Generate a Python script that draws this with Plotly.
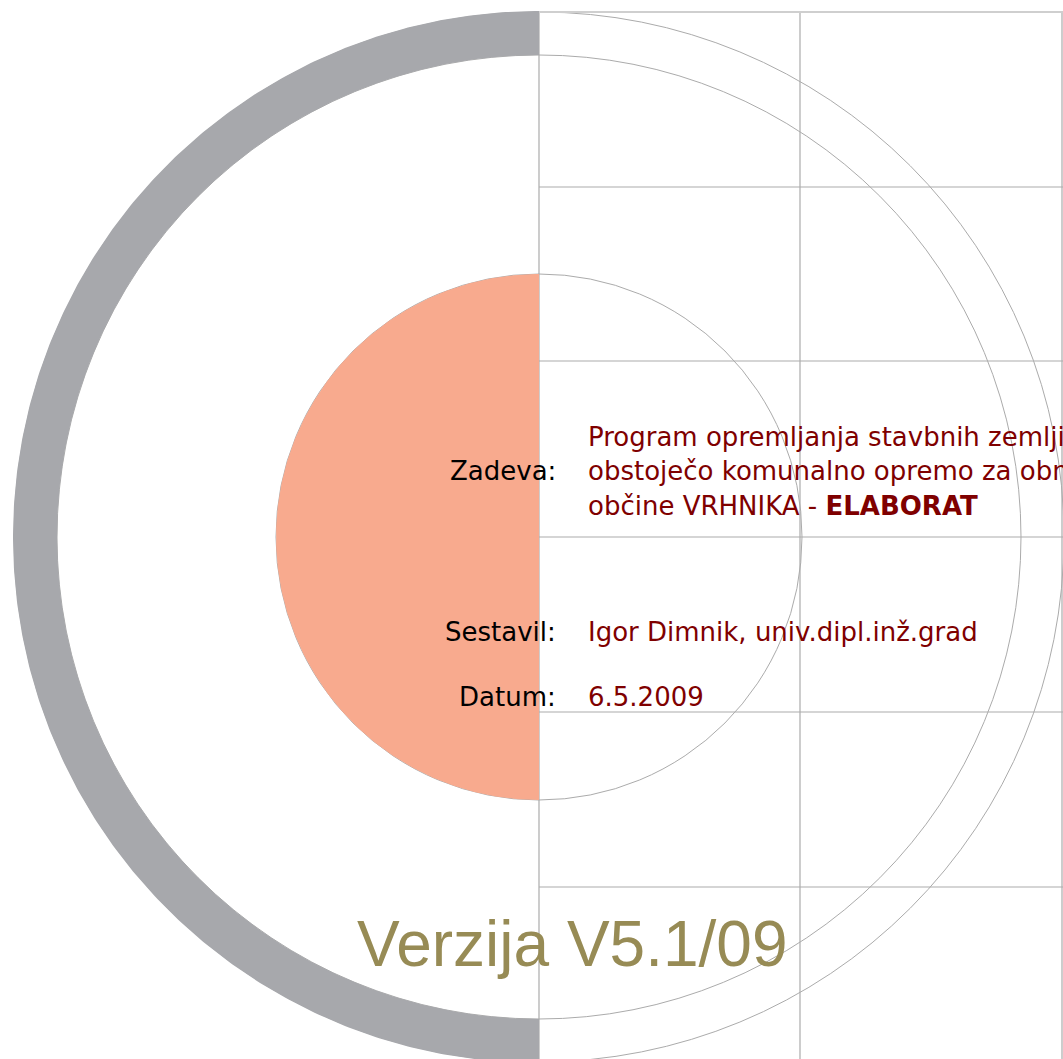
import numpy as np
import plotly.graph_objects as go

# ---- page geometry (pixel-like data units) ----
W, H = 1063, 1059
CENTER_X, CENTER_Y = 539, 537
RING_INNER, RING_OUTER = 482, 526      # grey half ring radii
DISC_RADIUS = 263                      # salmon half disc radius
GUIDE_RADII = [263, 482, 525]          # thin guide circles
GRID_X = [539, 800, 1062]
GRID_Y = [187, 361, 537, 712, 887]
TOP_Y = 12

# ---- texts ----
SUBJECT_LINES = [
    "Program opremljanja stavbnih zemljišč za",
    "obstoječo komunalno opremo za območje",
    "občine VRHNIKA - <b>ELABORAT</b>",
]
SUBJECT_Y = [437, 471, 506]
LABELS = ["Zadeva:", "Sestavil:", "Datum:"]
LABEL_Y = [471, 632, 697]
VALUES = ["Igor Dimnik, univ.dipl.inž.grad", "6.5.2009"]
VALUE_Y = [632, 697]
VERSION = "Verzija V5.1/09"
VERSION_X, VERSION_Y = 572, 944

RING_COLOR = "#A7A8AC"
DISC_COLOR = "#F8AA8E"
LINE_COLOR = "#ABABAB"
TEXT_RED = "#7F0000"
VERSION_COLOR = "#978B55"

fig = go.Figure()

# grey half ring (left side)
t = np.linspace(np.pi / 2, 3 * np.pi / 2, 400)
rx = np.concatenate([CENTER_X + RING_OUTER * np.cos(t), CENTER_X + RING_INNER * np.cos(t[::-1])])
ry = np.concatenate([CENTER_Y + RING_OUTER * np.sin(t), CENTER_Y + RING_INNER * np.sin(t[::-1])])
fig.add_trace(go.Scatter(x=rx, y=ry, mode="lines", fill="toself", fillcolor=RING_COLOR,
                         line=dict(width=0, color=RING_COLOR), hoverinfo="skip", showlegend=False))

# salmon half disc
dx = np.concatenate([CENTER_X + DISC_RADIUS * np.cos(t), [CENTER_X]])
dy = np.concatenate([CENTER_Y + DISC_RADIUS * np.sin(t), [CENTER_Y - DISC_RADIUS]])
fig.add_trace(go.Scatter(x=dx, y=dy, mode="lines", fill="toself", fillcolor=DISC_COLOR,
                         line=dict(width=0, color=DISC_COLOR), hoverinfo="skip", showlegend=False))

shapes = []
for r in GUIDE_RADII:
    shapes.append(dict(type="circle", xref="x", yref="y", layer="below",
                       x0=CENTER_X - r, x1=CENTER_X + r, y0=CENTER_Y - r, y1=CENTER_Y + r,
                       line=dict(color=LINE_COLOR, width=1)))
for gx in GRID_X:
    shapes.append(dict(type="line", xref="x", yref="y", layer="below",
                       x0=gx, x1=gx, y0=TOP_Y, y1=H, line=dict(color=LINE_COLOR, width=1.2)))
for gy in GRID_Y:
    shapes.append(dict(type="line", xref="x", yref="y", layer="below",
                       x0=GRID_X[0], x1=W, y0=gy, y1=gy, line=dict(color=LINE_COLOR, width=1.2)))
shapes.append(dict(type="line", xref="x", yref="y", layer="below",
                   x0=GRID_X[0], x1=W, y0=TOP_Y, y1=TOP_Y, line=dict(color="#CFCFCF", width=2.2)))

annotations = []
FONT = "DejaVu Sans, Verdana, sans-serif"
FS = 26
for txt, y in zip(SUBJECT_LINES, SUBJECT_Y):
    annotations.append(dict(x=586, y=y, xref="x", yref="y", text=txt, showarrow=False,
                            xanchor="left", yanchor="middle",
                            font=dict(family=FONT, size=FS, color=TEXT_RED)))
for txt, y in zip(LABELS, LABEL_Y):
    annotations.append(dict(x=558, y=y, xref="x", yref="y", text=txt, showarrow=False,
                            xanchor="right", yanchor="middle",
                            font=dict(family=FONT, size=FS, color="#000000")))
for txt, y in zip(VALUES, VALUE_Y):
    annotations.append(dict(x=586, y=y, xref="x", yref="y", text=txt, showarrow=False,
                            xanchor="left", yanchor="middle",
                            font=dict(family=FONT, size=FS, color=TEXT_RED)))
annotations.append(dict(x=VERSION_X, y=VERSION_Y, xref="x", yref="y", text=VERSION, showarrow=False,
                        xanchor="center", yanchor="middle",
                        font=dict(family="Liberation Sans, Arial, sans-serif", size=64, color=VERSION_COLOR)))

fig.update_layout(
    width=W, height=H,
    margin=dict(l=0, r=0, t=0, b=0),
    paper_bgcolor="white", plot_bgcolor="white",
    xaxis=dict(range=[0, W], visible=False, fixedrange=True),
    yaxis=dict(range=[H, 0], visible=False, fixedrange=True),
    shapes=shapes, annotations=annotations, showlegend=False,
)
fig.write_html("out.html", config={"displayModeBar": False},
               post_script="document.body.style.margin='0';document.body.style.overflow='hidden';")
